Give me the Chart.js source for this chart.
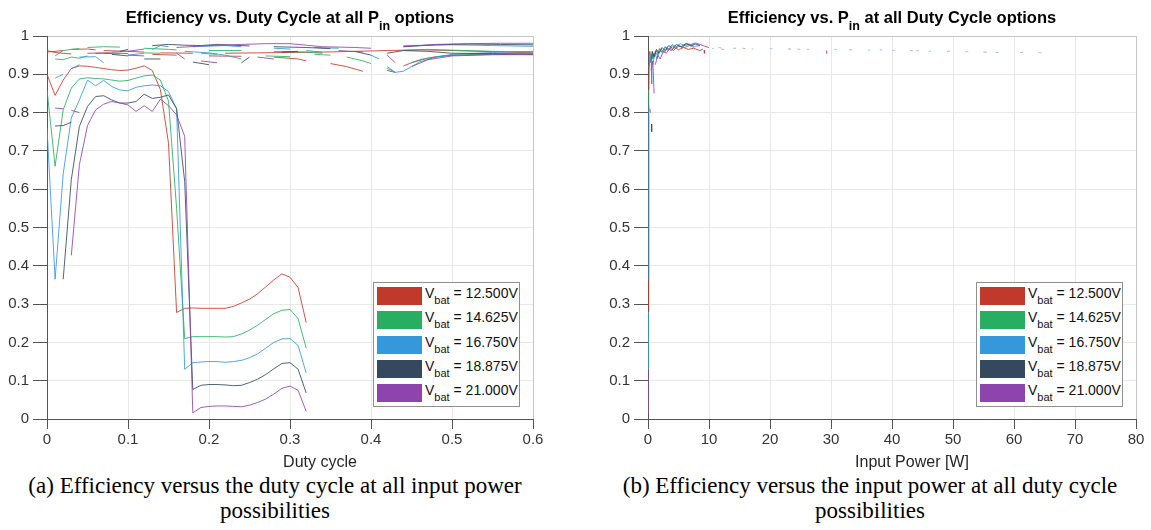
<!DOCTYPE html>
<html>
<head>
<meta charset="utf-8">
<script src="https://cdn.jsdelivr.net/npm/chart.js@4/dist/chart.umd.min.js"></script>
<style>
  html, body { margin: 0; padding: 0; background: #fff; }
  body { position: relative; width: 1151px; height: 530px; overflow: hidden; font-family: "Liberation Sans", Arial, sans-serif; color: #000; }
  canvas { position: absolute; top: 0; }
  #effVsDuty { left: 0; }
  #effVsPin { left: 601px; }
  .plot-title { position: absolute; top: 9px; font-weight: bold; font-size: 16.5px; line-height: 1; white-space: nowrap; transform: translateX(-50%); }
  .plot-title .sub { position: relative; top: 7px; font-size: 12.5px; }
  .axis-label { position: absolute; top: 454px; font-size: 16px; line-height: 1; color: #262626; white-space: nowrap; transform: translateX(-50%); }
  .caption { position: absolute; top: 473px; font-family: "Liberation Serif", "Times New Roman", serif; font-size: 23px; line-height: 25px; text-align: center; white-space: nowrap; }
  .legend { position: absolute; top: 282px; width: 147px; height: 125px; box-sizing: border-box; border: 1px solid #8f8f8f; background: #fff; }
  .legend .row { position: absolute; left: 3px; height: 18px; }
  .legend .swatch { position: absolute; left: 0; top: 0; width: 45px; height: 18px; }
  .legend .txt { position: absolute; left: 48px; top: -1px; font-size: 14px; line-height: 1; white-space: nowrap; color: #111; }
  .legend .txt .sub { position: relative; top: 6px; font-size: 11px; }
</style>
</head>
<body>
<canvas id="effVsDuty" width="575" height="455"></canvas>
<canvas id="effVsPin" width="550" height="455"></canvas>

<div class="plot-title" style="left:290px">Efficiency vs. Duty Cycle at all P<span class="sub">in</span> options</div>
<div class="plot-title" style="left:892px">Efficiency vs. P<span class="sub">in</span> at all Duty Cycle options</div>
<div class="axis-label" style="left:320px">Duty cycle</div>
<div class="axis-label" style="left:912px">Input Power [W]</div>
<div class="caption" style="left:25px;width:500px">(a) Efficiency versus the duty cycle at all input power<br>possibilities</div>
<div class="caption" style="left:600px;width:540px">(b) Efficiency versus the input power at all duty cycle<br>possibilities</div>
<div class="legend" id="legendDuty" style="left:373px"></div>
<div class="legend" id="legendPin" style="left:976px"></div>

<script>
// Battery voltages (legend entries) and their colours
const vbatLabels = ['12.500V', '14.625V', '16.750V', '18.875V', '21.000V'];
const vbatColors = ['#c0392b', '#27ae60', '#3498db', '#34495e', '#8e44ad'];

// Duty-cycle sweep for the lowest input power
const dutyLow = [0.00, 0.01, 0.02, 0.03, 0.04, 0.05, 0.06, 0.07, 0.08, 0.09, 0.10,
                 0.11, 0.12, 0.13, 0.14, 0.15, 0.16, 0.17, 0.18, 0.19, 0.20, 0.21,
                 0.22, 0.23, 0.24, 0.25, 0.26, 0.27, 0.28, 0.29, 0.30, 0.31, 0.32];

// Efficiency at the lowest input power, one array per battery voltage
const effLow12500 = [0.900, 0.845, 0.885, 0.915, 0.922, 0.921, 0.918, 0.915, 0.912, 0.910, 0.911,
                     0.916, 0.922, 0.910, 0.860, 0.720, 0.278, 0.289, 0.290, 0.289, 0.289, 0.289,
                     0.289, 0.294, 0.303, 0.313, 0.327, 0.345, 0.363, 0.379, 0.370, 0.343, 0.252];
const effLow14625 = [0.860, 0.660, 0.807, 0.864, 0.888, 0.891, 0.889, 0.888, 0.885, 0.882, 0.884,
                     0.890, 0.896, 0.898, 0.885, 0.830, 0.550, 0.210, 0.215, 0.215, 0.215, 0.215,
                     0.214, 0.215, 0.222, 0.232, 0.245, 0.260, 0.275, 0.284, 0.286, 0.262, 0.185];
const effLow16750 = [0.760, 0.365, 0.640, 0.786, 0.833, 0.885, 0.870, 0.884, 0.868, 0.859, 0.857,
                     0.866, 0.870, 0.872, 0.870, 0.855, 0.810, 0.130, 0.147, 0.149, 0.150, 0.150,
                     0.148, 0.150, 0.153, 0.160, 0.170, 0.185, 0.200, 0.209, 0.210, 0.192, 0.120];
const effLow18875 = [null, null, 0.365, 0.625, 0.764, 0.816, 0.842, 0.844, 0.833, 0.825, 0.825,
                     0.829, 0.848, 0.837, 0.840, 0.846, 0.810, 0.620, 0.077, 0.088, 0.090, 0.090,
                     0.089, 0.087, 0.088, 0.095, 0.104, 0.116, 0.131, 0.145, 0.147, 0.130, 0.068];
const effLow21000 = [null, null, null, 0.427, 0.664, 0.766, 0.807, 0.822, 0.829, 0.825, 0.820,
                     0.803, 0.818, 0.803, 0.835, 0.818, 0.794, 0.738, 0.016, 0.030, 0.033, 0.034,
                     0.034, 0.033, 0.032, 0.036, 0.043, 0.052, 0.065, 0.080, 0.086, 0.075, 0.020];

// Higher input powers: [duty, efficiency] pairs, a null efficiency breaks the line
const effHiA12500 = [[0,0.958],[0.01,0.96],[0.02,0.962],[0.025,null],[0.03,0.965],[0.05,0.966],[0.06,0.964],[0.065,null],
  [0.07,0.962],[0.1,0.96],[0.12,0.958],[0.125,null],[0.14,0.956],[0.18,0.955],[0.19,null],[0.22,0.955],[0.26,0.956],
  [0.3,0.957],[0.34,0.958],[0.38,0.96],[0.42,0.962],[0.46,0.964],[0.5,0.962],[0.55,0.959],[0.6,0.956]];
const effHiB12500 = [[0,0.962],[0.01,0.957],[0.02,0.955],[0.03,0.953],[0.035,null],[0.05,0.955],[0.08,0.956],[0.1,0.954],
  [0.105,null],[0.13,0.952],[0.16,0.95],[0.165,null],[0.2,0.948],[0.24,0.947],[0.245,null],[0.28,0.945],[0.31,0.94],
  [0.32,0.935],[0.325,null],[0.35,0.928],[0.37,0.92],[0.39,0.908],[0.395,null],[0.42,0.91],[0.43,0.905],[0.435,null],
  [0.44,0.922],[0.46,0.938],[0.48,0.946],[0.5,0.95],[0.55,0.952],[0.6,0.951]];
const effHiA14625 = [[0.01,0.948],[0.02,0.962],[0.03,0.965],[0.04,0.967],[0.045,null],[0.05,0.97],[0.07,0.972],[0.09,0.971],
  [0.095,null],[0.12,0.968],[0.15,0.965],[0.16,0.964],[0.165,null],[0.2,0.962],[0.24,0.962],[0.245,null],[0.28,0.96],
  [0.32,0.958],[0.34,0.955],[0.345,null],[0.37,0.945],[0.39,0.935],[0.4,0.928],[0.405,null],[0.42,0.915],[0.43,0.905],
  [0.435,null],[0.45,0.93],[0.47,0.942],[0.5,0.95],[0.55,0.953],[0.6,0.953]];
const effHiB14625 = [[0.01,0.94],[0.02,0.938],[0.03,0.945],[0.04,0.942],[0.05,0.948],[0.055,null],[0.07,0.955],[0.09,0.953],
  [0.095,null],[0.12,0.956],[0.14,0.955],[0.145,null],[0.19,0.955],[0.21,0.952],[0.215,null],[0.27,0.948],[0.3,0.946],
  [0.305,null],[0.33,0.952],[0.35,0.95],[0.355,null],[0.44,0.962],[0.47,0.965],[0.5,0.963],[0.55,0.96],[0.6,0.958]];
const effHiA16750 = [[0.01,0.89],[0.02,0.9],[0.025,null],[0.03,0.915],[0.04,0.925],[0.045,null],[0.08,0.958],[0.1,0.96],
  [0.105,null],[0.13,0.965],[0.14,0.975],[0.15,0.972],[0.155,null],[0.18,0.972],[0.22,0.975],[0.24,0.972],[0.245,null],
  [0.28,0.968],[0.3,0.966],[0.305,null],[0.33,0.97],[0.36,0.968],[0.365,null],[0.4,0.95],[0.41,0.94],[0.415,null],
  [0.42,0.92],[0.43,0.905],[0.44,0.908],[0.46,0.932],[0.48,0.945],[0.5,0.952],[0.55,0.957],[0.6,0.96]];
const effHiB16750 = [[0.04,0.945],[0.06,0.946],[0.07,0.93],[0.075,null],[0.1,0.95],[0.12,0.955],[0.125,null],[0.17,0.96],
  [0.2,0.956],[0.22,0.95],[0.24,0.94],[0.245,null],[0.32,0.962],[0.34,0.958],[0.345,null],[0.44,0.975],[0.5,0.977],
  [0.55,0.975],[0.6,0.973]];
const effHiA18875 = [[0.01,0.765],[0.02,0.766],[0.03,0.775],[0.035,null],[0.09,0.96],[0.1,0.965],[0.105,null],[0.13,0.975],
  [0.15,0.978],[0.17,0.976],[0.19,0.975],[0.21,0.978],[0.23,0.976],[0.25,0.974],[0.255,null],[0.28,0.972],[0.32,0.97],
  [0.35,0.967],[0.355,null],[0.38,0.96],[0.4,0.95],[0.405,null],[0.44,0.972],[0.48,0.977],[0.52,0.979],[0.56,0.978],[0.6,0.977]];
const effHiB18875 = [[0.08,0.952],[0.1,0.948],[0.105,null],[0.12,0.94],[0.14,0.94],[0.145,null],[0.18,0.932],[0.2,0.925],
  [0.205,null],[0.24,0.93],[0.25,0.945],[0.255,null],[0.29,0.958],[0.31,0.96],[0.315,null],[0.42,0.955],[0.44,0.962],
  [0.47,0.96],[0.5,0.955],[0.55,0.954],[0.6,0.953]];
const effHiA21000 = [[0.01,0.812],[0.02,0.81],[0.025,null],[0.03,0.806],[0.04,0.8],[0.045,null],[0.1,0.96],[0.12,0.966],
  [0.125,null],[0.16,0.97],[0.2,0.975],[0.24,0.978],[0.27,0.98],[0.3,0.98],[0.32,0.976],[0.34,0.972],[0.38,0.97],
  [0.4,0.968],[0.405,null],[0.44,0.972],[0.48,0.978],[0.52,0.98],[0.56,0.981],[0.6,0.981]];
const effHiB21000 = [[0.06,0.955],[0.08,0.955],[0.085,null],[0.1,0.95],[0.12,0.948],[0.125,null],[0.16,0.955],[0.17,0.94],
  [0.175,null],[0.19,0.935],[0.21,0.93],[0.215,null],[0.26,0.945],[0.28,0.94],[0.285,null],[0.36,0.962],[0.39,0.958],
  [0.395,null],[0.42,0.95],[0.43,0.93],[0.435,null],[0.45,0.92],[0.47,0.938],[0.5,0.948],[0.55,0.951],[0.6,0.952]];

// Efficiency against input power [W]: [pin, efficiency] pairs, null breaks the line
const pinEff12500 = [[0.08,0.28],[0.12,0.365],[0.13,null],[0.15,0.86],[0.2,0.95],[0.3,0.96],[0.5,0.93],[0.7,0.958],
  [1.0,0.948],[1.3,0.962],[1.7,0.955],[2.2,0.965],[2.7,0.958],[3.2,0.968],[3.8,0.962],[4.4,0.97],[5.0,0.964],[5.8,0.97],
  [6.6,0.965],[7.5,0.968],[8.5,0.962],[9.0,0.966],[9.1,null],[9.2,0.963],[9.25,0.955],[9.3,null],[12,0.966],[12.5,0.965],
  [12.6,null],[29.2,0.962],[29.3,0.954],[29.4,null],[44,0.962],[44.4,0.961]];
const pinEff14625 = [[0.1,0.82],[0.12,0.86],[0.13,null],[0.2,0.92],[0.35,0.945],[0.5,0.93],[0.7,0.955],[0.9,0.94],
  [1.2,0.96],[1.5,0.95],[1.9,0.968],[2.3,0.958],[2.8,0.972],[3.3,0.962],[3.9,0.975],[4.5,0.968],[5.2,0.974],[6.0,0.97],
  [6.8,0.975],[7.6,0.97],[7.7,null],[10.5,0.968],[10.8,0.967],[10.9,null],[17,0.966],[17.3,0.966],[17.4,null],
  [26,0.965],[26.4,0.965],[26.5,null],[36,0.963],[36.4,0.963],[36.5,null],[46,0.96],[46.4,0.96],[46.5,null],
  [57,0.957],[57.5,0.957]];
const pinEff16750 = [[0.05,0.13],[0.08,0.28],[0.09,null],[0.1,0.365],[0.15,0.82],[0.16,null],[0.3,0.93],[0.5,0.95],
  [0.6,0.9],[0.62,0.875],[0.63,null],[0.8,0.925],[1.1,0.955],[1.5,0.94],[1.9,0.965],[2.4,0.955],[2.9,0.972],[3.4,0.965],
  [4.0,0.978],[4.6,0.972],[5.3,0.98],[6.0,0.975],[6.8,0.978],[7.6,0.973],[8.5,0.975],[8.6,null],[11.5,0.97],[12,0.969],
  [12.1,null],[20,0.967],[20.4,0.967],[20.5,null],[30.5,0.965],[31,0.965],[31.1,null],[40,0.963],[40.5,0.962],
  [40.6,null],[52,0.959],[52.5,0.959],[52.6,null],[64,0.957],[64.5,0.956]];
const pinEff18875 = [[0.58,0.77],[0.6,0.75],[0.61,null],[0.65,0.94],[0.7,0.96],[1.0,0.945],[1.4,0.965],[1.8,0.955],
  [2.3,0.97],[2.8,0.962],[3.4,0.975],[4.0,0.968],[4.7,0.978],[5.4,0.972],[6.2,0.98],[7.0,0.975],[7.8,0.979],[8.5,0.975],
  [8.6,null],[14,0.968],[14.4,0.968],[14.5,null],[23,0.966],[23.4,0.966],[23.5,null],[33,0.964],[33.4,0.964],
  [33.5,null],[43,0.962],[43.4,0.961],[43.5,null],[55,0.958],[55.5,0.958]];
const pinEff21000 = [[0.02,0.015],[0.05,0.13],[0.06,null],[0.3,0.81],[0.4,0.8],[0.41,null],[0.5,0.91],[0.8,0.935],
  [0.9,0.89],[1.0,0.85],[1.01,null],[1.2,0.925],[1.6,0.95],[2.0,0.94],[2.5,0.96],[3.0,0.955],[3.6,0.968],[4.2,0.962],
  [4.9,0.975],[5.6,0.97],[6.3,0.98],[7.0,0.978],[7.8,0.982],[8.5,0.978],[9.2,0.974],[9.5,0.972],[10,0.97],[10.1,null],
  [15.5,0.968],[16,0.967],[16.1,null],[24.5,0.966],[25,0.965],[25.1,null],[38,0.964],[38.4,0.963],[38.5,null],
  [49,0.96],[49.5,0.96],[49.6,null],[61,0.957],[61.5,0.957]];

// Axis tick values
const dutyTicks = [0, 0.1, 0.2, 0.3, 0.4, 0.5, 0.6];
const pinTicks = [0, 10, 20, 30, 40, 50, 60, 70, 80];
const effTicks = [0, 0.1, 0.2, 0.3, 0.4, 0.5, 0.6, 0.7, 0.8, 0.9, 1];

const lowCurves = [effLow12500, effLow14625, effLow16750, effLow18875, effLow21000];
const hiCurvesA = [effHiA12500, effHiA14625, effHiA16750, effHiA18875, effHiA21000];
const hiCurvesB = [effHiB12500, effHiB14625, effHiB16750, effHiB18875, effHiB21000];
const pinCurves = [pinEff12500, pinEff14625, pinEff16750, pinEff18875, pinEff21000];

function withAlpha(hex, a) {
  const n = parseInt(hex.slice(1), 16);
  return `rgba(${(n >> 16) & 255},${(n >> 8) & 255},${n & 255},${a})`;
}
const fromGrid = (xs, ys) => xs.map((x, i) => ({ x, y: ys[i] }));
const fromPairs = pairs => pairs.map(p => ({ x: p[0], y: p[1] }));
const lineSet = (data, color) => ({
  data, borderColor: withAlpha(color, 0.85), borderWidth: 1, pointRadius: 0,
  fill: false, spanGaps: false, tension: 0
});

const tickFont = { family: '"Liberation Sans", Arial, sans-serif', size: 15 };
const fmt = v => (Math.abs(v) < 1e-9 ? '0' : String(Math.round(v * 10) / 10));

function axes(xTicks, xFmt) {
  const xMax = xTicks[xTicks.length - 1];
  return {
    x: {
      type: 'linear', min: xTicks[0], max: xMax,
      afterBuildTicks: s => { s.ticks = xTicks.map(v => ({ value: v })); },
      afterFit: s => { s.height = 36; },
      ticks: { font: tickFont, color: '#333', padding: 2, maxRotation: 0, autoSkip: false, callback: xFmt },
      grid: {
        color: c => (c.tick && c.tick.value === xMax ? '#c6c6c6' : '#e8e8e8'),
        tickColor: '#555', tickLength: 10, lineWidth: 1
      },
      border: { color: '#555', width: 1 }
    },
    y: {
      type: 'linear', min: 0, max: 1,
      afterBuildTicks: s => { s.ticks = effTicks.map(v => ({ value: v })); },
      afterFit: s => { s.width = 47; },
      ticks: { font: tickFont, color: '#333', padding: 4, autoSkip: false, callback: fmt },
      grid: {
        color: c => (c.tick && c.tick.value === 1 ? '#c6c6c6' : '#e8e8e8'),
        tickColor: '#555', tickLength: 14, lineWidth: 1
      },
      border: { color: '#555', width: 1 }
    }
  };
}

function baseOptions(xTicks, xFmt, rightPad) {
  return {
    responsive: false, animation: false, devicePixelRatio: 1,
    layout: { padding: { top: 36, right: rightPad, left: 0, bottom: 0 } },
    plugins: { legend: { display: false }, tooltip: { enabled: false }, title: { display: false } },
    scales: axes(xTicks, xFmt)
  };
}

// Left: efficiency versus duty cycle
const dutySets = [];
for (let i = vbatColors.length - 1; i >= 0; i--) {
  dutySets.push(lineSet(fromPairs(hiCurvesA[i]), vbatColors[i]));
  dutySets.push(lineSet(fromPairs(hiCurvesB[i]), vbatColors[i]));
  dutySets.push(lineSet(fromGrid(dutyLow, lowCurves[i]), vbatColors[i]));
}
new Chart(document.getElementById('effVsDuty'), {
  type: 'line',
  data: { datasets: dutySets },
  options: baseOptions(dutyTicks, fmt, 42)
});

// Right: efficiency versus input power; the sparse high-power samples are drawn paler
const pinSets = [];
for (let i = vbatColors.length - 1; i >= 0; i--) {
  const set = lineSet(fromPairs(pinCurves[i]), vbatColors[i]);
  const pale = withAlpha(vbatColors[i], 0.45);
  set.segment = { borderColor: s => (s.p0.parsed.x > 9.6 ? pale : undefined) };
  pinSets.push(set);
}
new Chart(document.getElementById('effVsPin'), {
  type: 'line',
  data: { datasets: pinSets },
  options: baseOptions(pinTicks, v => String(v), 15)
});

// Legends with subscripted V_bat
function buildLegend(id) {
  const box = document.getElementById(id);
  vbatLabels.forEach((lab, i) => {
    const row = document.createElement('div');
    row.className = 'row';
    row.style.top = (4 + i * 24.3) + 'px';
    row.innerHTML = `<div class="swatch" style="background:${vbatColors[i]}"></div>` +
      `<div class="txt">V<span class="sub">bat</span> = ${lab}</div>`;
    box.appendChild(row);
  });
}
buildLegend('legendDuty');
buildLegend('legendPin');
</script>
</body>
</html>
